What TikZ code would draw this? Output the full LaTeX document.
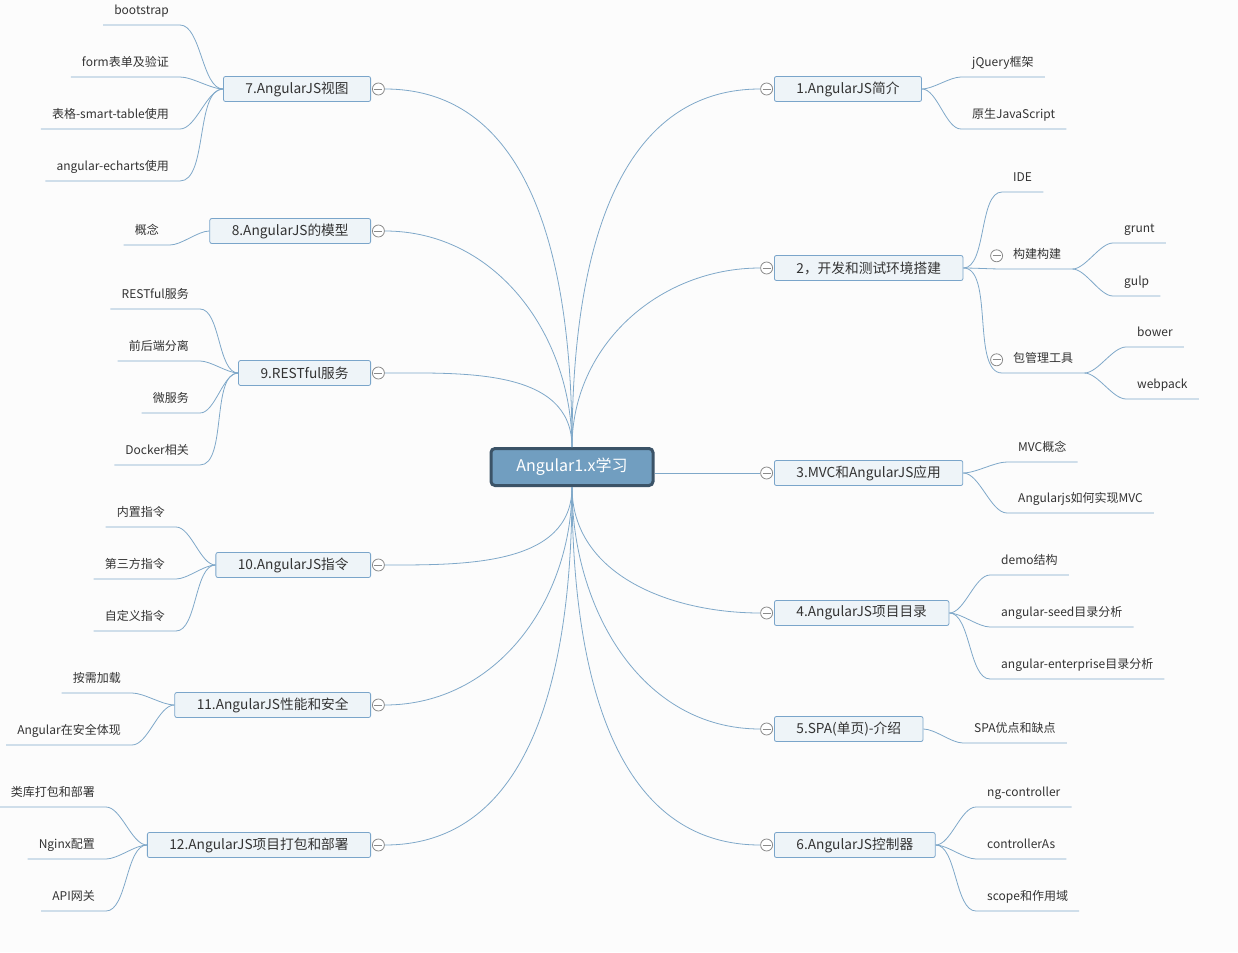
\documentclass[tikz,border=0pt]{standalone}
\usepackage{fontspec}
\setmainfont{Noto Sans CJK SC}
\usetikzlibrary{positioning}

\definecolor{bg}{HTML}{FCFCFC}
\definecolor{linkc}{HTML}{7FA8C9}
\definecolor{boxline}{HTML}{7AA5CA}
\definecolor{boxfill}{HTML}{EEF4F8}
\definecolor{rootfill}{HTML}{719EC0}
\definecolor{rootline}{HTML}{3B5367}
\definecolor{foldline}{HTML}{8A8A8A}
\definecolor{txt}{HTML}{333333}

\tikzset{
  rootbox/.style={draw=rootline, line width=3pt, fill=rootfill, rounded corners=4pt,
    minimum width=162pt, minimum height=37pt, text=white, font=\fontsize{16}{18}\selectfont},
  topic/.style={draw=boxline, line width=0.8pt, fill=boxfill, rounded corners=2pt,
    inner xsep=22pt, minimum height=25pt, text=txt, font=\fontsize{13.7}{15}\selectfont},
  leaf/.style={text=txt, inner xsep=11pt, inner ysep=7.5pt, text height=8.5pt, text depth=2.5pt,
    font=\fontsize{12}{14}\selectfont},
  fold/.style={circle, draw=foldline, line width=0.8pt, fill=white, minimum size=12pt, inner sep=0pt,
    path picture={\draw[foldline, line width=0.8pt] ([xshift=-4pt]path picture bounding box.center)
      -- ([xshift=4pt]path picture bounding box.center);}},
  link/.style={draw=linkc, line width=0.8pt},
  rfork/.style={out=0, in=180, looseness=0.7},
  lfork/.style={out=180, in=0, looseness=0.7}
}

\begin{document}
\begin{tikzpicture}[x=1pt, y=-1pt]
     \useasboundingbox (0,0) rectangle (1238,952);
     \fill[bg] (0,0) rectangle (1238,952);

     \node[rootbox] (root) at (572,467) {Angular1.x学习};

     \node[topic, anchor=west] (t1) at (774,89) {1.AngularJS简介};
     \node[topic, anchor=west] (t2) at (774,268) {2，开发和测试环境搭建};
     \node[topic, anchor=west] (t3) at (774,473) {3.MVC和AngularJS应用};
     \node[topic, anchor=west] (t4) at (774,613) {4.AngularJS项目目录};
     \node[topic, anchor=west] (t5) at (774,729) {5.SPA(单页)-介绍};
     \node[topic, anchor=west] (t6) at (774,845) {6.AngularJS控制器};
     \node[topic, anchor=east] (t7) at (371,89) {7.AngularJS视图};
     \node[topic, anchor=east] (t8) at (371,231) {8.AngularJS的模型};
     \node[topic, anchor=east] (t9) at (371,373) {9.RESTful服务};
     \node[topic, anchor=east] (t10) at (371,565) {10.AngularJS指令};
     \node[topic, anchor=east] (t11) at (371,705) {11.AngularJS性能和安全};
     \node[topic, anchor=east] (t12) at (371,845) {12.AngularJS项目打包和部署};

     \node[fold, left=1pt of t1] (c1) {};
     \node[fold, left=1pt of t2] (c2) {};
     \node[fold, left=1pt of t3] (c3) {};
     \node[fold, left=1pt of t4] (c4) {};
     \node[fold, left=1pt of t5] (c5) {};
     \node[fold, left=1pt of t6] (c6) {};
     \node[fold, right=1pt of t7] (c7) {};
     \node[fold, right=1pt of t8] (c8) {};
     \node[fold, right=1pt of t9] (c9) {};
     \node[fold, right=1pt of t10] (c10) {};
     \node[fold, right=1pt of t11] (c11) {};
     \node[fold, right=1pt of t12] (c12) {};

     \draw[link] (root.north) to[out=90, in=180] (c1.west);
     \draw[link] (root.north) to[out=90, in=180] (c2.west);
     \draw[link] (root.east |- c3.west) -- (c3.west);
     \draw[link] (root.south) to[out=-90, in=180] (c4.west);
     \draw[link] (root.south) to[out=-90, in=180] (c5.west);
     \draw[link] (root.south) to[out=-90, in=180] (c6.west);
     \draw[link] (root.north) to[out=90, in=0] (c7.east);
     \draw[link] (root.north) to[out=90, in=0] (c8.east);
     \draw[link] (root.north) to[out=90, in=0] (c9.east);
     \draw[link] (root.south) to[out=-90, in=0] (c10.east);
     \draw[link] (root.south) to[out=-90, in=0] (c11.east);
     \draw[link] (root.south) to[out=-90, in=0] (c12.east);

     \node[leaf, anchor=south west] (l1a) at (961,77) {jQuery框架};
     \node[leaf, anchor=south west] (l1b) at (961,129) {原生JavaScript};
     \node[leaf, anchor=south west] (l2a) at (1002,192) {IDE};
     \node[leaf, anchor=south west] (l2b) at (1002,269) {构建构建};
     \node[leaf, anchor=south west] (l2c) at (1002,373) {包管理工具};
     \node[leaf, anchor=south west] (l2b1) at (1113,243) {grunt};
     \node[leaf, anchor=south west] (l2b2) at (1113,296) {gulp};
     \node[leaf, anchor=south west] (l2c1) at (1126,347) {bower};
     \node[leaf, anchor=south west] (l2c2) at (1126,399) {webpack};
     \node[leaf, anchor=south west] (l3a) at (1007,462) {MVC概念};
     \node[leaf, anchor=south west] (l3b) at (1007,513) {Angularjs如何实现MVC};
     \node[leaf, anchor=south west] (l4a) at (990,575) {demo结构};
     \node[leaf, anchor=south west] (l4b) at (990,627) {angular-seed目录分析};
     \node[leaf, anchor=south west] (l4c) at (990,679) {angular-enterprise目录分析};
     \node[leaf, anchor=south west] (l5a) at (963,743) {SPA优点和缺点};
     \node[leaf, anchor=south west] (l6a) at (976,807) {ng-controller};
     \node[leaf, anchor=south west] (l6b) at (976,859) {controllerAs};
     \node[leaf, anchor=south west] (l6c) at (976,911) {scope和作用域};

     \node[fold, left=-1pt of l2b] (c2b) {};
     \node[fold, left=-1pt of l2c] (c2c) {};

     \node[leaf, anchor=south east] (l7a) at (180,25) {bootstrap};
     \node[leaf, anchor=south east] (l7b) at (180,77) {form表单及验证};
     \node[leaf, anchor=south east] (l7c) at (180,129) {表格-smart-table使用};
     \node[leaf, anchor=south east] (l7d) at (180,181) {angular-echarts使用};
     \node[leaf, anchor=south east] (l8a) at (170,245) {概念};
     \node[leaf, anchor=south east] (l9a) at (200,309) {RESTful服务};
     \node[leaf, anchor=south east] (l9b) at (200,361) {前后端分离};
     \node[leaf, anchor=south east] (l9c) at (200,413) {微服务};
     \node[leaf, anchor=south east] (l9d) at (200,465) {Docker相关};
     \node[leaf, anchor=south east] (l10a) at (176,527) {内置指令};
     \node[leaf, anchor=south east] (l10b) at (176,579) {第三方指令};
     \node[leaf, anchor=south east] (l10c) at (176,631) {自定义指令};
     \node[leaf, anchor=south east] (l11a) at (132,693) {按需加载};
     \node[leaf, anchor=south east] (l11b) at (132,745) {Angular在安全体现};
     \node[leaf, anchor=south east] (l12a) at (106,807) {类库打包和部署};
     \node[leaf, anchor=south east] (l12b) at (106,859) {Nginx配置};
     \node[leaf, anchor=south east] (l12c) at (106,911) {API网关};

     \draw[link] (t1.east) to[rfork] (l1a.south west) -- (l1a.south east);
     \draw[link] (t1.east) to[rfork] (l1b.south west) -- (l1b.south east);
     \draw[link] (t2.east) to[rfork] (l2a.south west) -- (l2a.south east);
     \draw[link] (t2.east) to[rfork] (l2b.south west) -- (l2b.south east);
     \draw[link] (t2.east) to[rfork] (l2c.south west) -- (l2c.south east);
     \draw[link] (l2b.south east) to[rfork] (l2b1.south west) -- (l2b1.south east);
     \draw[link] (l2b.south east) to[rfork] (l2b2.south west) -- (l2b2.south east);
     \draw[link] (l2c.south east) to[rfork] (l2c1.south west) -- (l2c1.south east);
     \draw[link] (l2c.south east) to[rfork] (l2c2.south west) -- (l2c2.south east);
     \draw[link] (t3.east) to[rfork] (l3a.south west) -- (l3a.south east);
     \draw[link] (t3.east) to[rfork] (l3b.south west) -- (l3b.south east);
     \draw[link] (t4.east) to[rfork] (l4a.south west) -- (l4a.south east);
     \draw[link] (t4.east) to[rfork] (l4b.south west) -- (l4b.south east);
     \draw[link] (t4.east) to[rfork] (l4c.south west) -- (l4c.south east);
     \draw[link] (t5.east) to[rfork] (l5a.south west) -- (l5a.south east);
     \draw[link] (t6.east) to[rfork] (l6a.south west) -- (l6a.south east);
     \draw[link] (t6.east) to[rfork] (l6b.south west) -- (l6b.south east);
     \draw[link] (t6.east) to[rfork] (l6c.south west) -- (l6c.south east);

     \draw[link] (t7.west) to[lfork] (l7a.south east) -- (l7a.south west);
     \draw[link] (t7.west) to[lfork] (l7b.south east) -- (l7b.south west);
     \draw[link] (t7.west) to[lfork] (l7c.south east) -- (l7c.south west);
     \draw[link] (t7.west) to[lfork] (l7d.south east) -- (l7d.south west);
     \draw[link] (t8.west) to[lfork] (l8a.south east) -- (l8a.south west);
     \draw[link] (t9.west) to[lfork] (l9a.south east) -- (l9a.south west);
     \draw[link] (t9.west) to[lfork] (l9b.south east) -- (l9b.south west);
     \draw[link] (t9.west) to[lfork] (l9c.south east) -- (l9c.south west);
     \draw[link] (t9.west) to[lfork] (l9d.south east) -- (l9d.south west);
     \draw[link] (t10.west) to[lfork] (l10a.south east) -- (l10a.south west);
     \draw[link] (t10.west) to[lfork] (l10b.south east) -- (l10b.south west);
     \draw[link] (t10.west) to[lfork] (l10c.south east) -- (l10c.south west);
     \draw[link] (t11.west) to[lfork] (l11a.south east) -- (l11a.south west);
     \draw[link] (t11.west) to[lfork] (l11b.south east) -- (l11b.south west);
     \draw[link] (t12.west) to[lfork] (l12a.south east) -- (l12a.south west);
     \draw[link] (t12.west) to[lfork] (l12b.south east) -- (l12b.south west);
     \draw[link] (t12.west) to[lfork] (l12c.south east) -- (l12c.south west);
\end{tikzpicture}
\end{document}
